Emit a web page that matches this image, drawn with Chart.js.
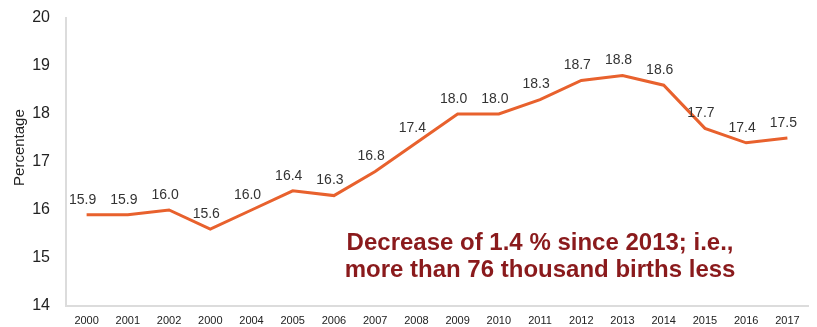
<!DOCTYPE html>
<html>
<head>
<meta charset="utf-8">
<script src="https://cdn.jsdelivr.net/npm/chart.js@4/dist/chart.umd.min.js"></script>
<style>
  html, body { margin: 0; padding: 0; background: #fff; }
  #wrap { width: 817px; height: 327px; }
</style>
</head>
<body>
<div id="wrap"><canvas id="chart"></canvas></div>
<script>
// Year labels as printed on the axis (the fourth one reads 2000 in the source)
const years = ['2000', '2001', '2002', '2000', '2004', '2005', '2006', '2007', '2008',
               '2009', '2010', '2011', '2012', '2013', '2014', '2015', '2016', '2017'];
const shares = [15.9, 15.9, 16.0, 15.6, 16.0, 16.4, 16.3, 16.8, 17.4,
                18.0, 18.0, 18.3, 18.7, 18.8, 18.6, 17.7, 17.4, 17.5];
const yTicks = [14, 15, 16, 17, 18, 19, 20];
const noteLines = ['Decrease of 1.4 % since 2013; i.e.,', 'more than 76 thousand births less'];

const FONT = '"Liberation Sans", Arial, sans-serif';

// value labels above each point, the axis title and the two-line note
const labelPlugin = {
    id: 'valueLabels',
    afterDatasetsDraw(chart) {
        const ctx = chart.ctx;
        const meta = chart.getDatasetMeta(0);
        const x = chart.scales.x;
        const y = chart.scales.y;
        ctx.save();
        ctx.font = '14px ' + FONT;
        ctx.fillStyle = '#333';
        ctx.textAlign = 'center';
        ctx.textBaseline = 'middle';
        meta.data.forEach((pt, i) => {
            ctx.fillText(shares[i].toFixed(1), pt.x - 4, pt.y - 15);
        });

        // rotated y-axis title
        ctx.save();
        ctx.translate(20, y.getPixelForValue(17.3));
        ctx.rotate(-Math.PI / 2);
        ctx.font = '15px ' + FONT;
        ctx.fillStyle = '#222';
        ctx.fillText('Percentage', 0, 0);
        ctx.restore();

        ctx.font = 'bold 24px ' + FONT;
        ctx.fillStyle = '#8a1a1c';
        const cx = (x.getPixelForValue(6) + x.getPixelForValue(16)) / 2;
        ctx.fillText(noteLines[0], cx, y.getPixelForValue(15.31));
        ctx.fillText(noteLines[1], cx, y.getPixelForValue(14.75));
        ctx.restore();
    }
};

new Chart(document.getElementById('chart'), {
    type: 'line',
    data: {
        labels: years,
        datasets: [{
            data: shares,
            borderColor: '#e8612d',
            borderWidth: 3,
            pointRadius: 0,
            tension: 0,
            fill: false
        }]
    },
    options: {
        responsive: true,
        maintainAspectRatio: false,
        animation: false,
        layout: { padding: { top: 18, right: 9, bottom: 0, left: 0 } },
        plugins: {
            legend: { display: false },
            tooltip: { enabled: false }
        },
        scales: {
            x: {
                offset: true,
                grid: { display: false, drawTicks: false },
                border: { color: '#dcdcdc', width: 2 },
                ticks: {
                    color: '#222',
                    font: { family: FONT, size: 11 },
                    padding: 8,
                    maxRotation: 0,
                    autoSkip: false
                },
                afterFit: s => {
                    s.height = 21;
                    s.paddingLeft = 0;
                    s.paddingRight = 0;
                }
            },
            y: {
                min: 14,
                max: 20,
                afterBuildTicks: s => { s.ticks = yTicks.map(v => ({ value: v })); },
                grid: { display: false, drawTicks: false },
                border: { color: '#dcdcdc', width: 2 },
                ticks: {
                    color: '#222',
                    font: { family: FONT, size: 16 },
                    padding: 16
                },
                afterFit: s => {
                    s.width = 66;
                    s.paddingTop = 0;
                    s.paddingBottom = 0;
                }
            }
        }
    },
    plugins: [labelPlugin]
});
</script>
</body>
</html>
